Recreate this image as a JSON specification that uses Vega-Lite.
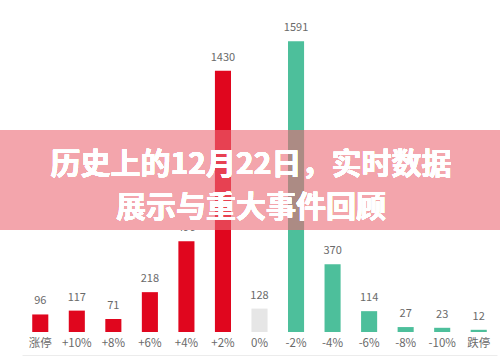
{
  "$schema": "https://vega.github.io/schema/vega-lite/v6.json",
  "autosize": {"type": "none"},
  "width": 475,
  "height": 329,
  "padding": {"left": 22, "top": 3, "right": 3, "bottom": 31},
  "background": "#ffffff",
  "config": {"view": {"stroke": null}, "font": "Noto Sans CJK SC"},
  "data": {
    "values": [
      {"cat": "涨停", "count": 96, "grp": "up"},
      {"cat": "+10%", "count": 117, "grp": "up"},
      {"cat": "+8%", "count": 71, "grp": "up"},
      {"cat": "+6%", "count": 218, "grp": "up"},
      {"cat": "+4%", "count": 496, "grp": "up"},
      {"cat": "+2%", "count": 1430, "grp": "up"},
      {"cat": "0%", "count": 128, "grp": "flat"},
      {"cat": "-2%", "count": 1591, "grp": "down"},
      {"cat": "-4%", "count": 370, "grp": "down"},
      {"cat": "-6%", "count": 114, "grp": "down"},
      {"cat": "-8%", "count": 27, "grp": "down"},
      {"cat": "-10%", "count": 23, "grp": "down"},
      {"cat": "跌停", "count": 12, "grp": "down"}
    ]
  },
  "encoding": {
    "x": {
      "field": "cat", "type": "nominal", "sort": null,
      "scale": {"paddingInner": 0.56, "paddingOuter": 0.28},
      "axis": {
        "title": null, "labelAngle": 0, "offset": 23,
        "ticks": false, "tickSize": 0, "labelPadding": -12, "labelBaseline": "middle",
        "domainColor": "#ececec", "domainWidth": 1,
        "labelColor": "#6a6a6a", "labelFontSize": 11.5, "labelFont": "Noto Sans CJK SC"
      }
    },
    "y": {
      "field": "count", "type": "quantitative",
      "scale": {"domain": [0, 1800]},
      "axis": null
    }
  },
  "layer": [
    {
      "mark": {"type": "bar"},
      "encoding": {
        "color": {
          "field": "grp", "type": "nominal", "legend": null,
          "scale": {"domain": ["up", "flat", "down"], "range": ["#e0061e", "#e6e6e6", "#4dbf9b"]}
        }
      }
    },
    {
      "mark": {"type": "text", "baseline": "bottom", "dy": -8, "fontSize": 11, "color": "#6a6a6a", "font": "Noto Sans CJK SC"},
      "encoding": {"text": {"field": "count", "type": "quantitative"}}
    },
    {
      "mark": {"type": "rect", "fill": "#f3a5ac", "strokeWidth": 0},
      "encoding": {
        "x": {"value": -22}, "x2": {"value": 478},
        "y": {"datum": 1105}, "y2": {"datum": 558}
      }
    },
    {
      "transform": [{"filter": "datum.count > 1105"}],
      "mark": {"type": "bar"},
      "encoding": {
        "y": {"datum": 1105}, "y2": {"datum": 558},
        "fill": {"condition": {"test": "datum.grp === 'up'", "value": "#e74152"}, "value": "#ac8b84"}
      }
    },
    {
      "mark": {"type": "text", "text": "历史上的12月22日，实时数据", "fontSize": 30, "fontWeight": "bold", "color": "#ffffff", "align": "center", "baseline": "middle", "font": "Noto Sans CJK SC"},
      "encoding": {"x": {"value": 229}, "y": {"value": 162}}
    },
    {
      "mark": {"type": "text", "text": "展示与重大事件回顾", "fontSize": 30, "fontWeight": "bold", "color": "#ffffff", "align": "center", "baseline": "middle", "font": "Noto Sans CJK SC"},
      "encoding": {"x": {"value": 229}, "y": {"value": 205}}
    }
  ]
}
